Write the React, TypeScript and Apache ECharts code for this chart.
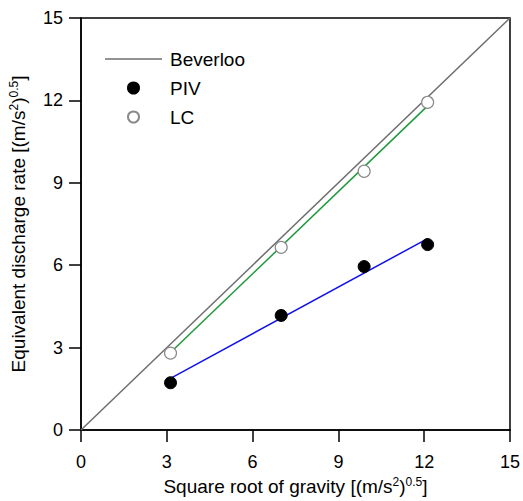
import React, { useEffect, useRef } from "react";
import * as echarts from "echarts";

const pivX = [3.13, 7.0, 9.9, 12.12];
const pivY = [1.72, 4.17, 5.95, 6.75];
const lcX = [3.13, 7.0, 9.9, 12.12];
const lcY = [2.8, 6.65, 9.42, 11.93];
const pivFitX = [3.13, 12.12];
const pivFitY = [1.88, 6.97];
const lcFitX = [3.13, 12.12];
const lcFitY = [2.82, 11.8];
const beverlooX = [0, 15];
const beverlooY = [0, 15];

const zip = (a: number[], b: number[]) => a.map((v, i) => [v, b[i]]);

const FONT = "Liberation Sans, Arial, sans-serif";

export default function App() {
  const ref = useRef<HTMLDivElement>(null);
  useEffect(() => {
    if (!ref.current) return;
    const chart = echarts.init(ref.current, null, { renderer: "svg" });
    const supRich = {
      sup: { fontSize: 12, verticalAlign: "top", lineHeight: 21, fontFamily: FONT, color: "#000" },
    };
    chart.setOption({
      animation: false,
      backgroundColor: "#fff",
      textStyle: { fontFamily: FONT },
      grid: {
        left: 80,
        right: 11,
        top: 18,
        bottom: 67,
        show: true,
        borderColor: "#000",
        borderWidth: 1.5,
        backgroundColor: "transparent",
      },
      legend: {
        orient: "vertical",
        left: 100,
        top: 44,
        itemWidth: 57,
        itemHeight: 11,
        itemGap: 9,
        data: [
          { name: "Beverloo", icon: "path://M0 0H57V1.5H0Z", itemStyle: { color: "#6e6e6e" } },
          { name: "PIV", icon: "circle" },
          { name: "LC", icon: "circle" },
        ],
        textStyle: { fontSize: 19, color: "#000", fontFamily: FONT, padding: [0, 0, 0, 3], lineHeight: 20 },
      },
      xAxis: {
        type: "value",
        min: 0,
        max: 15,
        interval: 3,
        name: "Square root of gravity [(m/s{sup|2}){sup|0.5}]",
        nameLocation: "middle",
        nameGap: 46,
        nameTextStyle: { fontSize: 19, color: "#000", fontFamily: FONT, rich: supRich },
        axisLine: { lineStyle: { color: "#000", width: 1.5 } },
        axisTick: { inside: false, length: 12, lineStyle: { color: "#000", width: 1.5 } },
        axisLabel: { fontSize: 18, color: "#000", margin: 23, fontFamily: FONT },
        splitLine: { show: false },
      },
      yAxis: {
        type: "value",
        min: 0,
        max: 15,
        interval: 3,
        name: "Equivalent discharge rate [(m/s{sup|2}){sup|0.5}]",
        nameLocation: "middle",
        nameRotate: 90,
        nameGap: 52,
        nameTextStyle: { fontSize: 19, color: "#000", fontFamily: FONT, rich: supRich },
        axisLine: { lineStyle: { color: "#000", width: 1.5 } },
        axisTick: { inside: false, length: 12, lineStyle: { color: "#000", width: 1.5 } },
        axisLabel: { fontSize: 18, color: "#000", margin: 18, fontFamily: FONT },
        splitLine: { show: false },
      },
      series: [
        {
          name: "Beverloo",
          type: "line",
          data: zip(beverlooX, beverlooY),
          showSymbol: false,
          symbol: "none",
          lineStyle: { color: "#6e6e6e", width: 1.5 },
          itemStyle: { color: "#6e6e6e" },
        },
        {
          name: "PIVfit",
          type: "line",
          data: zip(pivFitX, pivFitY),
          symbol: "none",
          lineStyle: { color: "#1010ee", width: 1.5 },
          z: 2,
        },
        {
          name: "LCfit",
          type: "line",
          data: zip(lcFitX, lcFitY),
          symbol: "none",
          lineStyle: { color: "#1f9a3c", width: 1.5 },
          z: 2,
        },
        {
          name: "PIV",
          type: "scatter",
          data: zip(pivX, pivY),
          symbol: "circle",
          symbolSize: 12,
          itemStyle: { color: "#000", borderColor: "#000", borderWidth: 1, opacity: 1 },
          z: 3,
        },
        {
          name: "LC",
          type: "scatter",
          data: zip(lcX, lcY),
          symbol: "circle",
          symbolSize: 12,
          itemStyle: { color: "#fff", borderColor: "#8a8a8a", borderWidth: 1.2, opacity: 1 },
          z: 3,
        },
      ],
    });
    return () => chart.dispose();
  }, []);
  return <div ref={ref} style={{ width: 523, height: 501, position: "absolute", left: 0, top: 0 }} />;
}
